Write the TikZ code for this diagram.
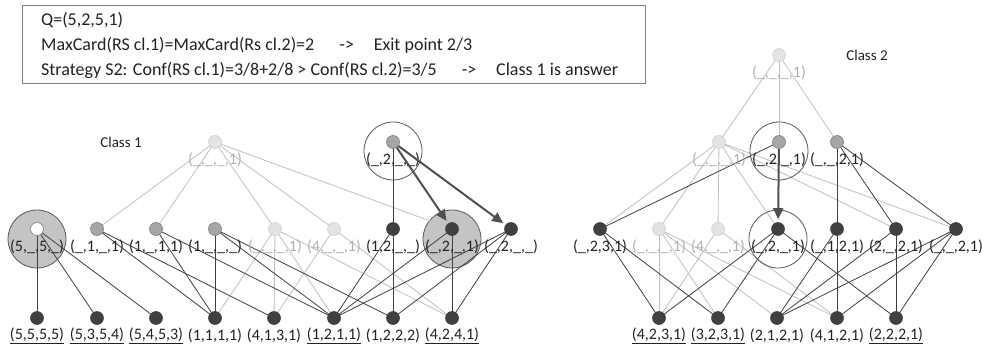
\documentclass[tikz,border=0pt]{standalone}
\usepackage{fontspec}
\setmainfont{Carlito}
\usetikzlibrary{arrows.meta}
\definecolor{dkc}{HTML}{404040}
\definecolor{grc}{HTML}{A6A6A6}
\definecolor{grb}{HTML}{7F7F7F}
\definecolor{ltc}{HTML}{E3E3E3}
\definecolor{ltb}{HTML}{CFCFCF}
\definecolor{lnc}{HTML}{BFBFBF}
\definecolor{txd}{HTML}{222222}
\definecolor{txl}{HTML}{B0B0B0}
\definecolor{bgc}{HTML}{C4C4C4}
\definecolor{rgc}{HTML}{595959}
\definecolor{arc}{HTML}{505050}
\definecolor{boxc}{HTML}{7F7F7F}
\pgfdeclarelayer{bg}
\pgfsetlayers{bg,main}
\newcommand\ND[6]{\node[#4] (#1) at (#2,#3) {};\node[#5] (#1l) at (#2,#3+18) {#6};}
\begin{document}
\begin{tikzpicture}[x=1pt,y=-1pt,
  pt/.style={circle,minimum size=13pt,inner sep=0pt,line width=0.6pt},
  dk/.style={pt,fill=dkc,draw=dkc},
  gr/.style={pt,fill=grc,draw=grb},
  lt/.style={pt,fill=ltc,draw=ltb},
  wh/.style={pt,fill=white,draw=grb},
  lab/.style={font=\fontsize{16}{18}\selectfont,text=txd,inner sep=0pt},
  llab/.style={lab,text=txl},
  dl/.style={draw=dkc,line width=0.8pt},
  ll/.style={draw=lnc,line width=0.8pt},
  arr/.style={draw=arc,line width=2pt,shorten >=3pt,-{Triangle[length=11pt,width=10pt]}},
  ring/.style={circle,draw=rgc,line width=0.8pt,minimum size=58pt,inner sep=0pt},
  bigc/.style={ring,fill=bgc},
  hdr/.style={font=\fontsize{18}{21}\selectfont,text=txd,anchor=west,inner sep=0pt}]
\useasboundingbox (0,0) rectangle (982,347);
% header
\node[draw=boxc,line width=0.8pt,minimum width=623pt,minimum height=78pt,anchor=north west,inner sep=0pt] (box) at (22,5) {};
\node[hdr] (h1) at (41,20) {Q=(5,2,5,1)};
\node[hdr] (h2) at (41,45) {MaxCard(RS cl.1)=MaxCard(Rs cl.2)=2\hspace{1.4em}->\hspace{1.1em}Exit point 2/3};
\node[hdr] (h3) at (41,70) {Strategy S2: Conf(RS cl.1)=3/8+2/8 > Conf(RS cl.2)=3/5\hspace{1.4em}->\hspace{1.1em}Class 1 is answer};
\node[lab,font=\fontsize{15}{17}\selectfont] (cl1) at (121,142) {Class 1};
\node[lab,font=\fontsize{15}{17}\selectfont] (cl2) at (867,55) {Class 2};
% ---------- class 1 nodes
\ND{c1t}{215}{142}{lt}{llab}{(\_,\_,\_,1)}
\ND{c1c}{393}{142}{gr}{lab}{(\_,2,\_,\_)}
\ND{m1}{37}{229}{wh}{lab}{(5,\_,5,\_)}
\ND{m2}{97}{229}{gr}{lab}{(\_,1,\_,1)}
\ND{m3}{156}{229}{gr}{lab}{(1,\_,1,1)}
\ND{m4}{215}{229}{gr}{lab}{(1,\_,\_,\_)}
\ND{m5}{275}{229}{lt}{llab}{(\_,\_,\_,1)}
\ND{m6}{334}{229}{lt}{llab}{(4,\_,\_,1)}
\ND{m7}{393}{229}{dk}{lab}{(1,2,\_,\_)}
\ND{m8}{452}{229}{dk}{lab}{(\_,2,\_,1)}
\ND{m9}{511}{229}{dk}{lab}{(\_,2,\_,\_)}
\ND{b1}{37}{318}{dk}{lab}{\underline{(5,5,5,5)}}
\ND{b2}{97}{318}{dk}{lab}{\underline{(5,3,5,4)}}
\ND{b3}{156}{318}{dk}{lab}{\underline{(5,4,5,3)}}
\ND{b4}{215}{318}{dk}{lab}{(1,1,1,1)}
\ND{b5}{274}{318}{dk}{lab}{(4,1,3,1)}
\ND{b6}{334}{318}{dk}{lab}{\underline{(1,2,1,1)}}
\ND{b7}{393}{318}{dk}{lab}{(1,2,2,2)}
\ND{b8}{452}{318}{dk}{lab}{\underline{(4,2,4,1)}}
\node[ring] (rg1) at (393,151) {};
% ---------- class 2 nodes
\ND{c2t}{779}{55}{lt}{llab}{(\_,\_,\_,1)}
\ND{r2a}{719}{142}{lt}{llab}{(\_,\_,\_,1)}
\ND{r2b}{779}{142}{gr}{lab}{(\_,2,\_,1)}
\ND{r2c}{837}{142}{gr}{lab}{(\_,\_,2,1)}
\ND{r3a}{600}{229}{dk}{lab}{(\_,2,3,1)}
\ND{r3b}{659}{229}{lt}{llab}{(\_,\_,\_,1)}
\ND{r3c}{718}{229}{lt}{llab}{(4,\_,\_,1)}
\ND{r3d}{778}{229}{dk}{lab}{(\_,2,\_,1)}
\ND{r3e}{837}{229}{dk}{lab}{(\_,1,2,1)}
\ND{r3f}{896}{229}{dk}{lab}{(2,\_,2,1)}
\ND{r3g}{956}{229}{dk}{lab}{(\_,\_,2,1)}
\ND{s1}{659}{318}{dk}{lab}{\underline{(4,2,3,1)}}
\ND{s2}{718}{318}{dk}{lab}{\underline{(3,2,3,1)}}
\ND{s3}{777}{318}{dk}{lab}{(2,1,2,1)}
\ND{s4}{837}{318}{dk}{lab}{(4,1,2,1)}
\ND{s5}{896}{318}{dk}{lab}{\underline{(2,2,2,1)}}
\node[ring] (rg2) at (779,151) {};
\node[ring] (rg3) at (778,239) {};
\begin{pgfonlayer}{bg}
\node[bigc] (bg1) at (37,239) {};
\node[bigc] (bg2) at (452,239) {};
% class 1 edges
\foreach \t in {m2,m3,m5,m6,m8} \draw[ll] (c1t.center) -- (\t.center);
\foreach \a/\b in {m5/b4,m5/b5,m5/b6,m5/b8,m6/b5,m6/b8} \draw[ll] (\a.center) -- (\b.center);
\draw[dl] (c1c.center) -- (m7.center);
\foreach \a/\b in {m1/b1,m1/b2,m1/b3,m2/b4,m2/b5,m3/b4,m3/b6,m4/b4,m4/b6,m4/b7,m7/b6,m7/b7,m8/b6,m8/b8,m9/b6,m9/b7,m9/b8} \draw[dl] (\a.center) -- (\b.center);
% class 2 edges
\foreach \t in {r2a,r2b,r2c} \draw[ll] (c2t.center) -- (\t.center);
\foreach \t in {r3a,r3b,r3c,r3d,r3f,r3g} \draw[ll] (r2a.center) -- (\t.center);
\foreach \a/\b in {r3b/s1,r3b/s2,r3b/s3,r3b/s4,r3c/s1,r3c/s4} \draw[ll] (\a.center) -- (\b.center);
\foreach \a/\b in {r2b/r3a,r2c/r3e,r2c/r3f,r2c/r3g,r3a/s1,r3a/s2,r3d/s1,r3d/s2,r3d/s5,r3e/s3,r3e/s4,r3f/s3,r3f/s5,r3g/s3,r3g/s4,r3g/s5} \draw[dl] (\a.center) -- (\b.center);
\end{pgfonlayer}
\draw[arr] (c1c) -- (m8);
\draw[arr] (c1c) -- (m9);
\draw[arr] (r2b) -- (r3d);
\end{tikzpicture}
\end{document}
